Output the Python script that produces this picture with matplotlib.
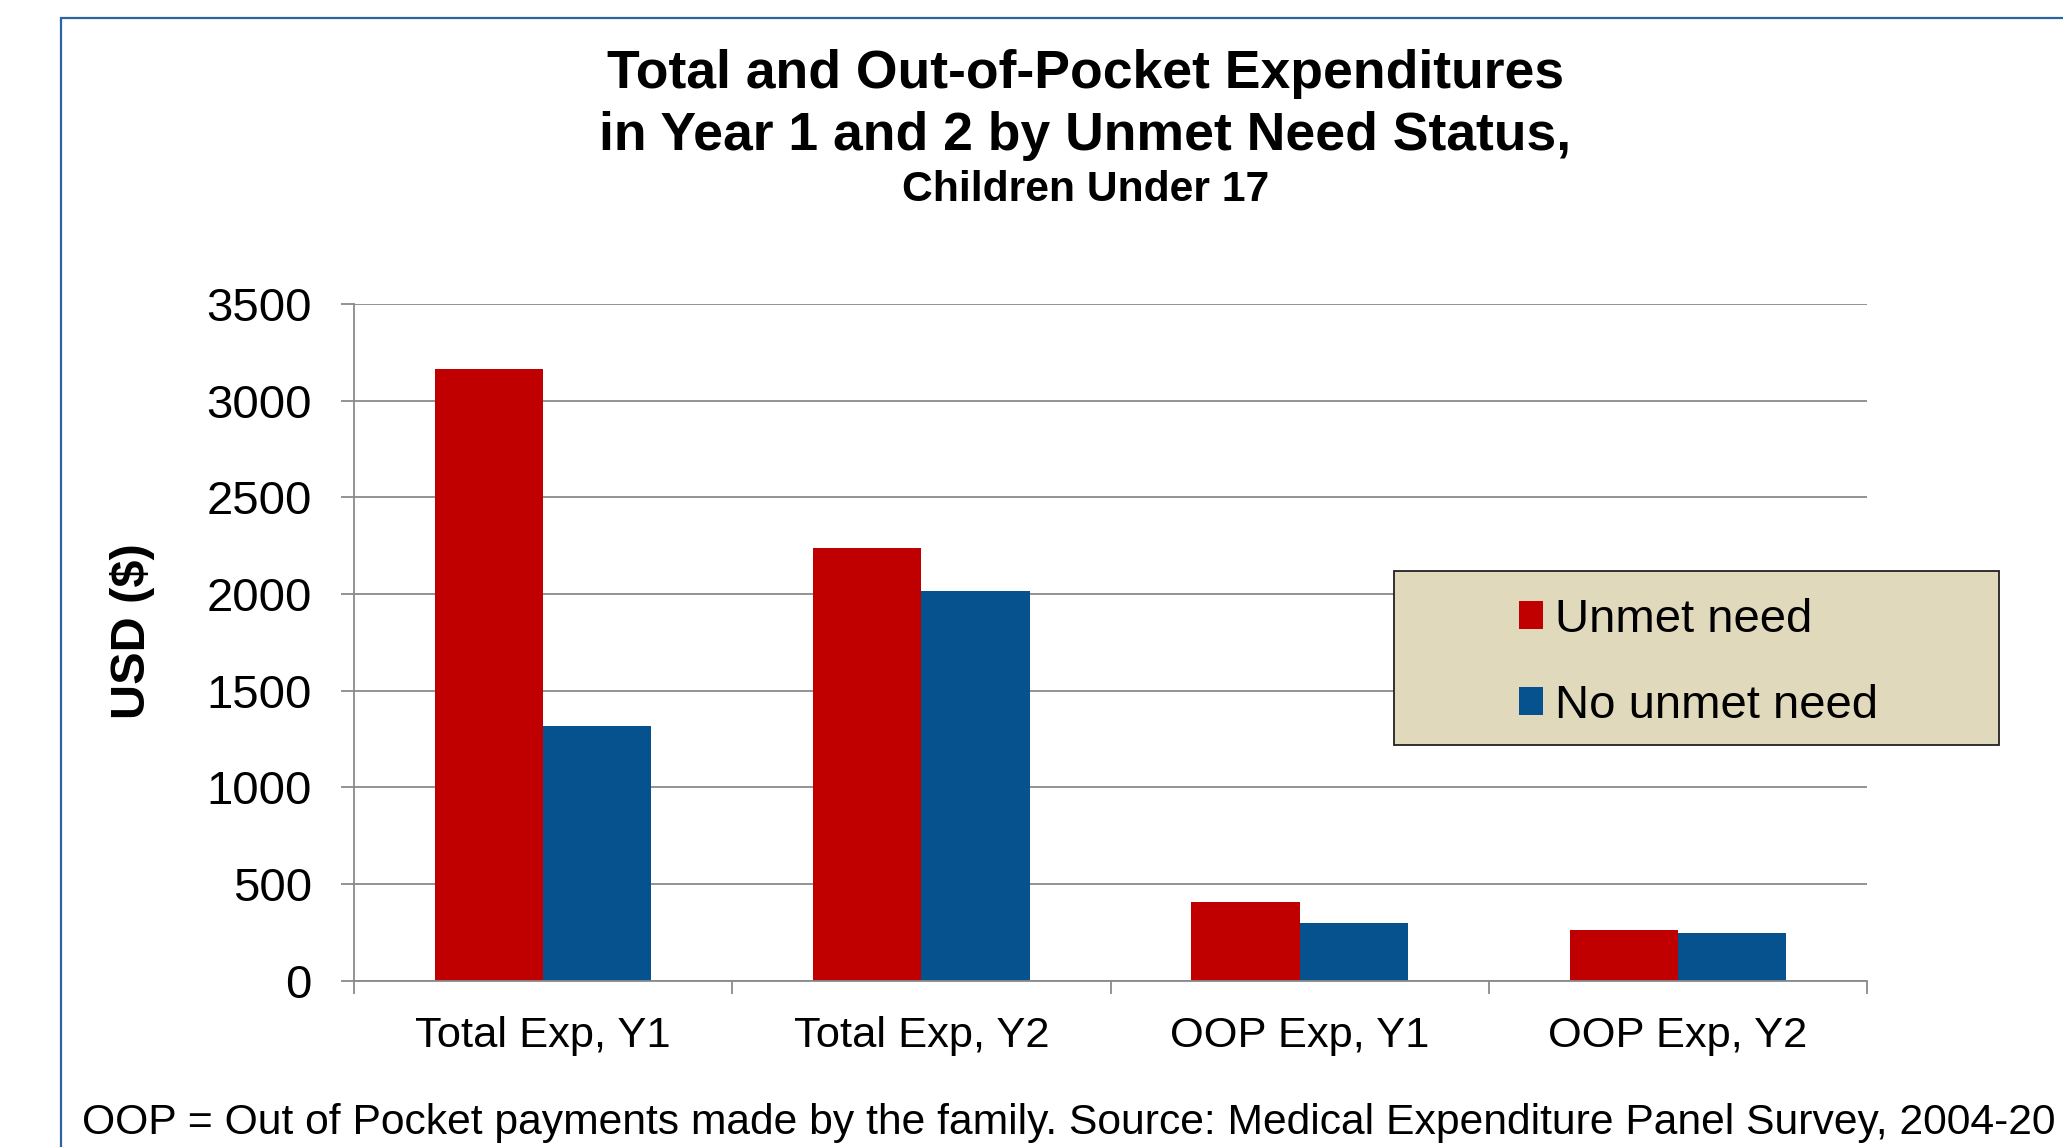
import matplotlib
matplotlib.use('Agg')
import matplotlib.pyplot as plt
from matplotlib.patches import Rectangle
import numpy as np

# data
categories = ['Total Exp, Y1', 'Total Exp, Y2', 'OOP Exp, Y1', 'OOP Exp, Y2']
unmet_need = [3165, 2240, 405, 265]
no_unmet_need = [1315, 2015, 297, 248]
series_labels = ['Unmet need', 'No unmet need']
y_ticks = [0, 500, 1000, 1500, 2000, 2500, 3000, 3500]

red = '#C00000'
blue = '#06528F'
grey = '#8A8A8A'

plt.rcParams['font.family'] = ['Liberation Sans', 'DejaVu Sans']

fig = plt.figure(figsize=(20.63, 11.47), dpi=100)
ax = fig.add_axes([0.1716, 0.1449, 0.7334, 0.5901])

x = np.arange(len(categories))
w = 0.286
b1 = ax.bar(x - w / 2, unmet_need, w, color=red, linewidth=0, label=series_labels[0], zorder=3)
b2 = ax.bar(x + w / 2, no_unmet_need, w, color=blue, linewidth=0, label=series_labels[1], zorder=3)

ax.set_xlim(-0.5, len(categories) - 0.5)
ax.set_ylim(0, 3500)
ax.set_yticks(y_ticks)
ax.set_yticklabels([str(v) for v in y_ticks], fontsize=34)
ax.set_xticks(x)
ax.set_xticklabels(categories, fontsize=31.3)
ax.set_xticks(np.arange(len(categories) + 1) - 0.5, minor=True)
ax.tick_params(axis='x', which='major', length=0, pad=25)
ax.tick_params(axis='x', which='minor', length=9.4, width=1.3, color=grey)
ax.tick_params(axis='y', length=9.4, width=1.3, color=grey, pad=21)

ax.grid(axis='y', color=grey, linewidth=1.3, zorder=0)
for s in ['top', 'right']:
    ax.spines[s].set_visible(False)
for s in ['left', 'bottom']:
    ax.spines[s].set_color(grey)
    ax.spines[s].set_linewidth(1.3)
    ax.spines[s].set_zorder(4)

ax.set_ylabel('USD ($)', fontsize=35, fontweight='bold')
ax.yaxis.set_label_coords(-0.1317, 0.516)

# titles
fig.text(0.526, 0.9355, 'Total and Out-of-Pocket Expenditures', ha='center', va='center',
         fontsize=38.5, fontweight='bold')
fig.text(0.526, 0.8815, 'in Year 1 and 2 by Unmet Need Status,', ha='center', va='center',
         fontsize=38.5, fontweight='bold')
fig.text(0.526, 0.834, 'Children Under 17', ha='center', va='center',
         fontsize=30.7, fontweight='bold')

# footer (runs off the right edge, as in the original slide)
fig.text(0.0398, 0.021, 'OOP = Out of Pocket payments made by the family. '
         'Source: Medical Expenditure Panel Survey, 2004-20',
         ha='left', va='center', fontsize=30.7)

# outer blue frame
fig.add_artist(Rectangle((0.0296, -0.1), 1.2, 1.0847, transform=fig.transFigure,
                         fill=False, edgecolor='#2B64A0', linewidth=1.6))

# legend box
fig.add_artist(Rectangle((0.6757, 0.3505), 0.2933, 0.1517, transform=fig.transFigure,
                         facecolor='#E1D9BB', edgecolor='#222222', linewidth=1.3, zorder=5))
leg = fig.legend(handles=[b1, b2], labels=series_labels, loc='center left',
                 bbox_to_anchor=(0.7363, 0.4223), frameon=False, fontsize=34,
                 handlelength=0.51, handleheight=0.53, handletextpad=0.25,
                 labelspacing=0.89, borderpad=0, borderaxespad=0)
leg.set_zorder(6)

fig.savefig('out.png', dpi=100)
